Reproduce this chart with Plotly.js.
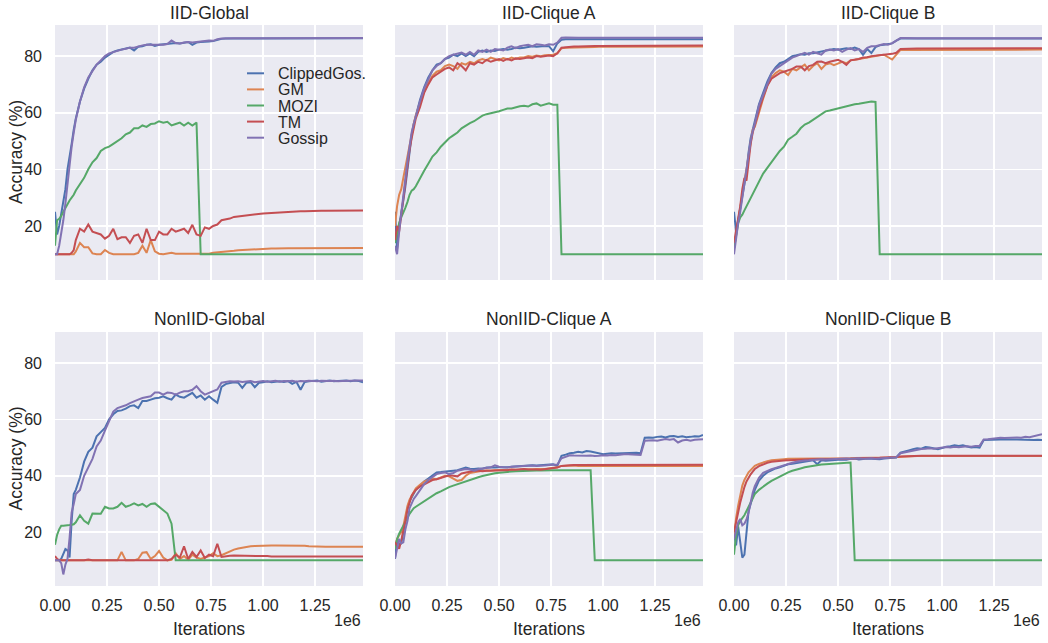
<!DOCTYPE html>
<html>
<head>
<meta charset="utf-8">
<script src="https://cdn.plot.ly/plotly-3.0.1.min.js"></script>
<style>
html, body { margin: 0; padding: 0; background: #ffffff; }
#chart { width: 1048px; height: 643px; }
</style>
</head>
<body>
<div id="chart"></div>
<script>
// ---------- shared data ----------
const iterations = [
  0, 0.01, 0.02, 0.03, 0.04, 0.05, 0.06, 0.07, 0.08, 0.09, 0.10,
  0.12, 0.14, 0.16, 0.18, 0.20, 0.22, 0.24, 0.26, 0.28, 0.30,
  0.32, 0.34, 0.36, 0.38, 0.40, 0.42, 0.44, 0.46, 0.48, 0.50,
  0.52, 0.54, 0.56, 0.58, 0.60, 0.62, 0.64, 0.66, 0.68, 0.70,
  0.72, 0.74, 0.76, 0.78, 0.80, 0.82, 0.84, 0.86, 0.88, 0.90,
  0.92, 0.94, 0.96, 0.98, 1.00, 1.02, 1.04, 1.06, 1.08, 1.10,
  1.12, 1.14, 1.16, 1.18, 1.20, 1.22, 1.24, 1.26, 1.28, 1.30,
  1.32, 1.34, 1.36, 1.38, 1.40, 1.42, 1.44, 1.46, 1.48
]; // in units of 1e6 iterations

const seriesNames = ['ClippedGos.', 'GM', 'MOZI', 'TM', 'Gossip'];
const seriesColors = ['#4C72B0', '#DD8452', '#55A868', '#C44E52', '#8172B3'];
const panelTitles = ['IID-Global', 'IID-Clique A', 'IID-Clique B', 'NonIID-Global', 'NonIID-Clique A', 'NonIID-Clique B'];
const xTickVals = [0, 0.25, 0.5, 0.75, 1.0, 1.25];
const yTickVals = [20, 40, 60, 80];

// ---------- IID-Global ----------
const iidGlobalClipped = [
  25, 17, 20, 24, 28, 33, 40, 44, 49, 54, 58,
  64, 68.5, 72, 75, 77, 78, 79.5, 80.5, 81.5, 82,
  82.3, 82.8, 83, 82, 83.3, 83.5, 84, 84.2, 83.6, 84,
  84.2, 84.3, 84.5, 84.6, 84.5, 84.7, 85, 84, 84.8, 85,
  85, 85.2, 85.3, 85.8, 86.1, 86.2, 86.2, 86.3, 86.2, 86.3,
  86.3, 86.2, 86.3, 86.3, 86.4, 86.3, 86.3, 86.4, 86.3, 86.4,
  86.4, 86.3, 86.4, 86.4, 86.4, 86.3, 86.4, 86.4, 86.4, 86.4,
  86.4, 86.4, 86.3, 86.4, 86.4, 86.4, 86.4, 86.4, 86.3
];
const iidGlobalGM = [
  10, 10, 10, 10, 10, 10, 10, 10, 10, 10, 11,
  14, 12.5, 12.5, 10.3, 10, 10, 11.5, 10.5, 10, 10,
  10, 10, 10, 10, 10.5, 13, 10.5, 15, 11, 10.2,
  10, 10.3, 10.5, 10.2, 10.2, 10, 10, 10, 10, 10,
  10, 10.2, 10.5, 10.6, 10.8, 11, 11, 11.2, 11.4, 11.5,
  11.6, 11.7, 11.8, 11.8, 11.9, 12, 12, 12, 12.1, 12.1,
  12.1, 12.1, 12.1, 12.2, 12.2, 12.2, 12.2, 12.2, 12.2, 12.2,
  12.2, 12.2, 12.2, 12.2, 12.2, 12.2, 12.2, 12.2, 12.2
];
const iidGlobalMOZI = [
  13, 22, 22.5, 23.5, 25, 26.5, 27.5, 29, 30, 31, 32.5,
  34.8, 37, 40, 42.5, 44, 46.5, 47.5, 48, 49, 50,
  51, 52.4, 53, 54.5, 54.5, 55.5, 55, 56, 56.2, 57,
  56.5, 56.8, 55.5, 56, 56.5, 55.5, 56.5, 55.5, 56.5, 10,
  10, 10, 10, 10, 10, 10, 10, 10, 10, 10,
  10, 10, 10, 10, 10, 10, 10, 10, 10, 10,
  10, 10, 10, 10, 10, 10, 10, 10, 10, 10,
  10, 10, 10, 10, 10, 10, 10, 10, 10
];
const iidGlobalTM = [
  10, 10, 10, 10, 10, 10, 10, 10, 10.5, 11.5, 15,
  19, 18, 20.5, 18, 17.5, 17, 15.5, 16.5, 19, 15.3,
  16, 16, 14, 16.5, 17, 14, 19, 15, 15, 18,
  17, 17, 19, 18, 18.5, 19, 17.5, 20.4, 17, 16.5,
  19.5, 19, 20, 20.5, 22, 22.3, 22.6, 23.2, 23.4, 23.6,
  23.8, 24, 24.1, 24.3, 24.4, 24.5, 24.6, 24.8, 24.9, 25,
  25, 25.1, 25.1, 25.2, 25.2, 25.3, 25.3, 25.3, 25.4, 25.4,
  25.4, 25.4, 25.5, 25.5, 25.5, 25.5, 25.5, 25.5, 25.5
];
const iidGlobalGossip = [
  10, 10, 13, 17, 22, 28, 35, 42, 48, 53, 57.5,
  64, 69, 72.5, 75, 77, 78.5, 80, 81, 81.5, 82,
  82.3, 82.6, 83, 83, 83.5, 83.8, 84, 84, 84, 84.2,
  84, 84.3, 85.5, 84.6, 84.5, 84.8, 85, 84.8, 85, 85,
  85.2, 85.5, 85.4, 86, 86.2, 86.3, 86.2, 86.3, 86.3, 86.3,
  86.3, 86.4, 86.3, 86.4, 86.4, 86.4, 86.3, 86.4, 86.4, 86.4,
  86.4, 86.4, 86.4, 86.3, 86.4, 86.4, 86.4, 86.4, 86.4, 86.4,
  86.4, 86.4, 86.4, 86.4, 86.4, 86.4, 86.4, 86.4, 86.4
];

// ---------- IID-Clique A ----------
const iidAClipped = [
  25, 12, 20, 24, 29, 34, 40, 47, 52, 56, 59,
  64.5, 69, 72.5, 75, 77, 77.5, 79, 79.5, 80.5, 80,
  81, 80, 81, 80, 81.5, 82, 81.5, 82, 81.8, 82.3,
  82.5, 82.3, 82.5, 83, 82.8, 83, 83.2, 83.5, 83.3, 83.5,
  83.6, 83.5, 81.7, 84.5, 85.8, 86, 86, 86, 86, 86,
  86, 86, 86, 86, 86, 86, 86, 86, 86, 86,
  86, 86, 86, 86, 86, 86, 86, 86, 86, 86,
  86, 86, 86, 86, 86, 86, 86, 86, 86
];
const iidAGM = [
  20, 27, 31, 33, 37, 41, 45, 49, 53, 56, 59,
  63, 67.5, 70.5, 73, 74.5, 75, 76.5, 77, 76.5, 75.5,
  77.5, 77, 78, 77.5, 78.5, 79, 78.5, 79.5, 79, 78.5,
  79.3, 78.8, 79.5, 79, 79.5, 79.5, 80, 79.8, 80.2, 80,
  80.3, 80.5, 80.5, 81, 82.8, 83, 83, 83.1, 83.1, 83.2,
  83.2, 83.2, 83.2, 83.3, 83.3, 83.3, 83.3, 83.3, 83.3, 83.3,
  83.3, 83.4, 83.4, 83.4, 83.4, 83.4, 83.4, 83.4, 83.4, 83.4,
  83.4, 83.4, 83.4, 83.4, 83.4, 83.4, 83.4, 83.4, 83.4
];
const iidAMOZI = [
  14, 18, 21, 23, 24.5, 26.5, 28.5, 31, 32.5, 33, 34,
  37, 39.5, 42, 44.5, 46, 48, 49.5, 51, 52, 53,
  54.5, 55.5, 56.3, 57, 58, 59, 59.5, 59.8, 60, 60.5,
  61, 61.5, 61.5, 62, 62.3, 62.5, 62.2, 63, 63.3, 62.5,
  63, 63.3, 62.8, 62.8, 10, 10, 10, 10, 10, 10,
  10, 10, 10, 10, 10, 10, 10, 10, 10, 10,
  10, 10, 10, 10, 10, 10, 10, 10, 10, 10,
  10, 10, 10, 10, 10, 10, 10, 10, 10
];
const iidATM = [
  15, 20, 18, 24, 30, 36, 42, 47, 51, 55, 58,
  62, 67, 70, 72.5, 73.5, 74.5, 75.5, 76, 75, 77.5,
  76.5, 75, 77.5, 77, 78, 77.5, 78.7, 78, 78.5, 79,
  78.3, 79, 78.5, 79.2, 79, 79.3, 79.5, 79.3, 80, 79.8,
  80, 80.2, 80, 81, 83, 83.2, 83.3, 83.4, 83.4, 83.5,
  83.5, 83.5, 83.6, 83.6, 83.6, 83.6, 83.7, 83.7, 83.7, 83.7,
  83.7, 83.7, 83.8, 83.8, 83.8, 83.8, 83.8, 83.8, 83.8, 83.8,
  83.8, 83.8, 83.8, 83.8, 83.8, 83.8, 83.8, 83.8, 83.8
];
const iidAGossip = [
  13, 10, 18, 25, 30, 37, 43, 49, 53, 56, 59,
  64, 68.5, 72, 75, 76.5, 77.5, 79, 80, 80.5, 81,
  81.3, 80.5, 81.5, 80.5, 82, 81.5, 82.3, 81.5, 82.5, 82.3,
  82, 83, 83.5, 82.8, 83.5, 83.8, 84, 83.5, 84.2, 84,
  83.8, 84.2, 84, 84.8, 86.5, 86.6, 86.5, 86.5, 86.5, 86.5,
  86.5, 86.5, 86.5, 86.5, 86.5, 86.5, 86.5, 86.5, 86.5, 86.5,
  86.5, 86.5, 86.5, 86.5, 86.5, 86.5, 86.5, 86.5, 86.5, 86.5,
  86.5, 86.5, 86.5, 86.5, 86.5, 86.5, 86.5, 86.5, 86.5
];

// ---------- IID-Clique B ----------
const iidBClipped = [
  25, 18, 22, 26, 31, 35, 39, 46, 51, 54, 57,
  63, 67, 71, 74, 76, 77.5, 78, 79, 80, 80.3,
  80.7, 80.5, 81, 81, 81.3, 81.5, 81.7, 82, 82.5, 82.3,
  82.5, 82.8, 82.5, 83, 82.5, 80.5, 82.5, 81.1, 83.2, 83.8,
  84, 84.3, 84.5, 85.5, 86.2, 86.2, 86.2, 86.2, 86.2, 86.2,
  86.2, 86.2, 86.2, 86.2, 86.2, 86.2, 86.2, 86.2, 86.2, 86.2,
  86.2, 86.2, 86.2, 86.2, 86.2, 86.2, 86.2, 86.2, 86.2, 86.2,
  86.2, 86.2, 86.2, 86.2, 86.2, 86.2, 86.2, 86.2, 86.2
];
const iidBGM = [
  12, 17, 21, 26, 32, 36, 40, 45, 50, 54, 55,
  60.5, 65, 69.5, 72.5, 74, 75, 74.5, 73.3, 75.5, 75,
  76, 77, 75, 76.5, 77.5, 75.5, 77, 77.5, 76.8, 77.5,
  78, 77.5, 78.5, 78.7, 79, 79.3, 79.5, 79.8, 80, 80.3,
  80.5, 79.5, 78.8, 80.5, 82.2, 82.2, 82.2, 82.3, 82.3, 82.3,
  82.3, 82.3, 82.3, 82.3, 82.3, 82.3, 82.3, 82.3, 82.3, 82.3,
  82.3, 82.3, 82.3, 82.3, 82.3, 82.3, 82.3, 82.3, 82.3, 82.3,
  82.3, 82.3, 82.3, 82.3, 82.3, 82.3, 82.3, 82.3, 82.3
];
const iidBMOZI = [
  12, 17, 21, 23, 24, 25.5, 27, 28.5, 29.5, 31, 32.5,
  35.5, 38.5, 40.5, 42.5, 44.5, 46.5, 48, 50.5, 51.5, 52.6,
  54.5, 55.8, 56.5, 57.5, 58.5, 59.5, 60.5, 60.8, 61.2, 61.5,
  61.8, 62.2, 62.6, 63, 63.2, 63.5, 63.8, 64, 63.8, 10,
  10, 10, 10, 10, 10, 10, 10, 10, 10, 10,
  10, 10, 10, 10, 10, 10, 10, 10, 10, 10,
  10, 10, 10, 10, 10, 10, 10, 10, 10, 10,
  10, 10, 10, 10, 10, 10, 10, 10, 10
];
const iidBTM = [
  14, 18, 22, 27, 33, 37, 36, 43, 49, 53, 56,
  61, 65.5, 69.5, 72, 73, 74, 74.5, 75, 75.5, 76.3,
  76.3, 75, 76.5, 76.9, 78, 78.1, 77.5, 78, 78.3, 78.7,
  78, 76.9, 78.5, 78.7, 79, 79.5, 79.6, 80, 80.2, 80.5,
  80.5, 80.7, 80.8, 81.2, 82.5, 82.6, 82.6, 82.7, 82.7, 82.7,
  82.7, 82.8, 82.8, 82.8, 82.8, 82.8, 82.8, 82.8, 82.8, 82.8,
  82.8, 82.8, 82.8, 82.8, 82.8, 82.8, 82.8, 82.8, 82.8, 82.8,
  82.8, 82.8, 82.8, 82.8, 82.8, 82.8, 82.8, 82.8, 82.8
];
const iidBGossip = [
  10, 16, 21, 25, 30, 36, 40, 45, 50, 53.5, 56,
  62.5, 66.5, 70.5, 73.8, 75.5, 76.5, 77.8, 78.5, 79.5, 80,
  80.5, 81.2, 80.5, 81.5, 81, 80.5, 82, 82.3, 82, 82.5,
  81.5, 82.3, 82.8, 82, 82.5, 81.5, 82.9, 83.5, 83.5, 84,
  84.3, 84, 84.6, 85.5, 86.4, 86.4, 86.3, 86.3, 86.3, 86.3,
  86.3, 86.3, 86.3, 86.3, 86.3, 86.3, 86.3, 86.3, 86.3, 86.3,
  86.3, 86.3, 86.3, 86.3, 86.3, 86.3, 86.3, 86.3, 86.3, 86.3,
  86.3, 86.3, 86.3, 86.3, 86.3, 86.3, 86.3, 86.3, 86.3
];

// ---------- NonIID-Global ----------
const nonGClipped = [
  10, 10, 10, 10.5, 12.5, 14, 13.5, 11, 24, 33.5, 35,
  39.4, 45, 48.5, 50, 54, 55.5, 57, 60, 61.8, 63,
  63.2, 63.8, 64.7, 65, 64, 66.5, 66.5, 67, 67.5, 67.7,
  68.2, 67.5, 67, 68.8, 68, 67.7, 68.5, 69.4, 67.7, 68.5,
  67, 68.2, 67, 65.9, 71.5, 72.5, 72.9, 73.2, 73, 71.2,
  73, 73.2, 71.4, 73, 73.2, 73.5, 73.2, 73.4, 73.5, 73.3,
  73.6, 72.6, 73.3, 70.5, 73.3, 73.5, 73.6, 73.8, 73.4, 73.6,
  73.8, 73.5, 73.6, 73.7, 73.8, 73.5, 73.8, 73.6, 73.2
];
const nonGGM = [
  10, 10, 10, 10, 10, 10, 10, 10, 10, 10, 10,
  10, 10, 10, 10, 10, 10, 10, 10, 10, 10,
  13, 10, 10, 10, 10.5, 12.7, 12.9, 10.5, 11.5, 13.3,
  11, 10, 10.2, 12.5, 10.5, 11.5, 10.2, 12, 11, 10.5,
  11, 11.5, 12.5, 11.5, 11.8, 12.5, 13.2, 13.8, 14.2, 14.5,
  14.8, 15, 15.1, 15.2, 15.3, 15.3, 15.3, 15.3, 15.3, 15.3,
  15.3, 15.3, 15.3, 15.3, 15.2, 15, 14.9, 14.8, 14.8, 14.8,
  14.8, 14.8, 14.8, 14.8, 14.8, 14.8, 14.8, 14.8, 14.8
];
const nonGMOZI = [
  15.5, 19, 21, 22.3, 22.3, 22.3, 22.4, 22.5, 22.6, 22.8, 23.5,
  26, 24, 23, 26.6, 26.6, 26.5, 29, 28.4, 28.4, 29,
  30.4, 29, 29.5, 30.2, 29.5, 30, 29, 30, 30.2, 29,
  27.5, 26.6, 23, 10, 10, 10, 10, 10, 10, 10,
  10, 10, 10, 10, 10, 10, 10, 10, 10, 10,
  10, 10, 10, 10, 10, 10, 10, 10, 10, 10,
  10, 10, 10, 10, 10, 10, 10, 10, 10, 10,
  10, 10, 10, 10, 10, 10, 10, 10, 10
];
const nonGTM = [
  11.5, 10.5, 10, 10, 10, 10, 10, 10, 10, 10, 10,
  10, 10, 10.3, 10, 10, 10, 10, 10, 10, 10,
  10, 10, 10, 10, 10, 10, 10, 10, 10, 10,
  10, 10, 10.5, 12, 11, 15, 10.5, 13, 11.2, 13.5,
  10.8, 12, 11.5, 15.9, 11.2, 11.5, 11.6, 11.7, 11.7, 11.6,
  11.6, 11.5, 11.5, 11.5, 11.5, 11.5, 11.4, 11.4, 11.4, 11.4,
  11.4, 11.4, 11.4, 11.4, 11.4, 11.4, 11.4, 11.4, 11.4, 11.4,
  11.4, 11.4, 11.4, 11.4, 11.4, 11.4, 11.4, 11.4, 11.4
];
const nonGGossip = [
  10, 10, 10, 9, 5, 8.5, 10.5, 18, 27, 30, 33.5,
  35, 40, 43, 46, 50.4, 52.5, 56, 59.5, 62.8, 64,
  64.4, 65, 65.8, 66.5, 67, 67.6, 68, 68.2, 69.5, 69.5,
  68.8, 69.5, 69.4, 68.8, 69.5, 70, 70, 70.5, 71.8, 70,
  68.8, 69.4, 70, 70.6, 73, 73.3, 73.5, 73.4, 73.5, 73.3,
  73.4, 73.6, 73.2, 73.5, 73.6, 73.4, 73.5, 73.7, 73.4, 73.6,
  73.5, 73.7, 73.4, 73.6, 73.5, 73.7, 73.6, 73.5, 73.7, 73.6,
  73.6, 73.7, 73.5, 73.6, 73.7, 73.8, 73.7, 73.8, 73.8
];

// ---------- NonIID-Clique A ----------
const nonAClipped = [
  10.5, 17.6, 15.5, 16, 20, 25, 28.5, 31, 32.5, 34, 35,
  36.5, 38, 39, 40, 41.2, 41.3, 41.4, 41.6, 41.8, 42,
  42.5, 42.9, 42.5, 42.4, 42.6, 42.5, 42.9, 42.8, 42.9, 43,
  42.9, 43, 43.2, 43.3, 43.5, 43.4, 43.6, 43.7, 43.6, 43.7,
  43.8, 44, 44.1, 43.5, 47.1, 47.5, 48, 48.2, 48.5, 48.3,
  48.8, 48.6, 48.2, 47.8, 47.6, 47.8, 48, 47.9, 48, 48.1,
  48.2, 48.3, 48.2, 48, 53.5, 53.6, 53.5, 53.8, 53.9, 53.6,
  54, 54.1, 53.8, 54, 53.7, 53.8, 54, 53.9, 54.5
];
const nonAGM = [
  15, 17.6, 19, 20, 22, 26, 29.4, 31.5, 33, 34.5, 35.5,
  36.8, 37.9, 38.5, 39, 38.8, 39.5, 40, 39.8, 39, 38.2,
  38.5, 40, 41, 41.3, 41.6, 41.8, 41.9, 41.8, 42, 42,
  42, 42.1, 42.1, 42, 42.2, 42.3, 42.2, 42.3, 42.4, 42.3,
  42.4, 42.6, 42.8, 43, 43.5, 43.6, 43.6, 43.6, 43.5, 43.5,
  43.5, 43.5, 43.5, 43.5, 43.5, 43.5, 43.5, 43.5, 43.5, 43.5,
  43.5, 43.5, 43.5, 43.5, 43.5, 43.5, 43.5, 43.5, 43.5, 43.5,
  43.5, 43.5, 43.5, 43.5, 43.5, 43.5, 43.5, 43.5, 43.5
];
const nonAMOZI = [
  14, 17.5, 19.5, 21, 22.3, 24, 25.5, 26.5, 27.5, 28.5, 29,
  30, 31, 32, 33, 33.8, 34.5, 35.3, 36, 36.5, 37,
  37.6, 38.2, 38.7, 39.2, 39.5, 39.9, 40.3, 40.6, 40.9, 41.1,
  41.3, 41.4, 41.5, 41.6, 41.7, 41.8, 41.8, 41.9, 41.9, 41.9,
  42, 42, 42, 42, 42, 42, 42, 41.9, 42, 42,
  42, 42, 10, 10, 10, 10, 10, 10, 10, 10,
  10, 10, 10, 10, 10, 10, 10, 10, 10, 10,
  10, 10, 10, 10, 10, 10, 10, 10, 10
];
const nonATM = [
  16.4, 15, 14.1, 17, 20, 24, 28, 30.5, 32.9, 34, 35,
  36.2, 37, 37.8, 38.5, 38.8, 39.2, 39.6, 40.2, 40, 39.8,
  40.8, 41.2, 41.5, 41.8, 41.8, 41.6, 41.8, 41.9, 41.8, 42,
  42, 42, 42.2, 42.1, 42.3, 42.4, 42.2, 42.3, 42.2, 42.1,
  42.3, 42.5, 42.7, 42.9, 43.5, 43.7, 43.7, 43.8, 43.8, 43.8,
  43.8, 43.8, 43.8, 43.8, 43.8, 43.8, 43.8, 43.8, 43.9, 43.9,
  43.9, 43.9, 43.9, 43.9, 43.9, 43.9, 43.9, 43.9, 43.9, 43.9,
  43.9, 43.9, 43.9, 43.9, 43.9, 43.9, 43.9, 43.9, 43.9
];
const nonAGossip = [
  10.6, 14, 17.6, 16, 16.4, 21, 24, 28.5, 30.5, 31.8, 32.8,
  35, 37, 38.5, 39.5, 40.6, 41, 41.2, 40.6, 41, 41.8,
  42, 42.4, 42.2, 41.8, 42.3, 42.5, 42.9, 43, 43.7, 43.2,
  43, 42.9, 43.2, 43.3, 43.5, 43.4, 43.5, 43.6, 43.5, 43.5,
  43.6, 43.8, 44, 44, 46.2, 46.8, 47.3, 47.2, 47.1, 47,
  47.1, 47.2, 47, 47.1, 47.3, 47.2, 47.4, 47.3, 47.5, 47.6,
  47.6, 47.5, 47.6, 47.4, 52.4, 52.5, 52.6, 52.4, 52.8, 53,
  52.8, 53, 51.8, 52.5, 52.8, 52.4, 52.8, 53, 53
];

// ---------- NonIID-Clique B ----------
const nonBClipped = [
  20, 15.3, 22, 16.5, 11, 12, 21, 27.5, 30, 33, 35,
  38.3, 40, 41.2, 42, 42.6, 43, 43.5, 44.1, 44.3, 44.5,
  44.7, 45, 45.2, 45.5, 44.1, 45.5, 45.3, 45.5, 45.6, 45.7,
  45.8, 45.7, 46, 46.1, 45.8, 46, 46.1, 46, 45.9, 45.9,
  46.1, 46.3, 46.4, 46.5, 48.2, 48.5, 49, 49.4, 49.8, 49.6,
  50.2, 50, 49.8, 49.4, 49.8, 50.3, 50.5, 50.8, 50.6, 50.8,
  50.4, 50, 50.2, 50, 52.7, 52.8, 52.9, 52.8, 52.9, 52.9,
  52.8, 52.9, 52.9, 52.8, 52.9, 52.8, 52.7, 52.8, 52.7
];
const nonBGM = [
  18, 25, 29.4, 33, 36.5, 38.5, 40, 41.2, 42, 42.8, 43.5,
  44.2, 44.8, 45.2, 45.5, 45.7, 45.9, 45.9, 46, 46, 46,
  46, 46, 46.1, 46.1, 46, 46.1, 46.1, 46.1, 46.2, 46.2,
  46.2, 46.2, 46.2, 46.3, 46.3, 46.3, 46.3, 46.4, 46.4, 46.4,
  46.5, 46.5, 46.6, 46.7, 46.8, 46.9, 46.9, 47, 47, 47,
  47, 47, 47, 47, 47, 47, 47, 47, 47, 47,
  47, 47, 47, 47, 47, 47, 47, 47, 47, 47,
  47, 47, 47, 47, 47, 47, 47, 47, 47
];
const nonBMOZI = [
  12, 19, 22.5, 24, 25, 26, 27.5, 29, 30.6, 32, 33.5,
  35, 36.2, 37.2, 38.2, 39, 39.8, 40.6, 41.2, 41.8, 42.3,
  42.6, 43, 43.3, 43.5, 43.7, 44, 44.1, 44.2, 44.3, 44.5,
  44.5, 44.6, 44.7, 10, 10, 10, 10, 10, 10, 10,
  10, 10, 10, 10, 10, 10, 10, 10, 10, 10,
  10, 10, 10, 10, 10, 10, 10, 10, 10, 10,
  10, 10, 10, 10, 10, 10, 10, 10, 10, 10,
  10, 10, 10, 10, 10, 10, 10, 10, 10
];
const nonBTM = [
  20, 24, 27, 30.5, 33.5, 36, 38, 39.5, 40.5, 41.5, 42.4,
  43.4, 44.1, 44.6, 45, 45.2, 45.3, 45.4, 45.5, 45.6, 45.7,
  45.7, 45.8, 45.8, 45.9, 45.9, 45.9, 46, 46, 46, 46,
  46.1, 46.1, 46.1, 46.1, 46.2, 46.2, 46.3, 46.3, 46.4, 46.4,
  46.5, 46.5, 46.6, 46.7, 46.8, 46.9, 47, 47, 47.1, 47.1,
  47.1, 47.1, 47.1, 47.1, 47.1, 47.1, 47.1, 47.1, 47.1, 47.1,
  47.1, 47.1, 47.1, 47.1, 47.1, 47.1, 47.1, 47.1, 47.1, 47.1,
  47.1, 47.1, 47.1, 47.1, 47.1, 47.1, 47.1, 47.1, 47.1
];
const nonBGossip = [
  17.6, 21, 23.5, 24.7, 22.4, 23, 24.5, 27, 31, 34, 36.3,
  39.3, 41, 41.8, 42.3, 42.8, 43.3, 43.8, 44.2, 44.6, 45,
  45.3, 45.4, 45.5, 45.7, 45.8, 45.9, 45.8, 45.9, 46, 46,
  46, 46.1, 46, 46.1, 46.2, 46, 46.1, 46.2, 46, 46.1,
  46.2, 46.3, 46.4, 46.6, 48, 48.3, 48.6, 49, 49.4, 49.5,
  49.6, 49.8, 49.6, 49.8, 50, 50.2, 50, 50.3, 50.1, 50.4,
  50.5, 50.3, 50.6, 50.6, 52.9, 53, 53.2, 53.3, 53.5, 53.4,
  53.5, 53.4, 53.6, 53.5, 53.8, 53.7, 54, 54.3, 54.7
];

// ---------- assemble ----------
const panelSeries = [
  [iidGlobalClipped, iidGlobalGM, iidGlobalMOZI, iidGlobalTM, iidGlobalGossip],
  [iidAClipped, iidAGM, iidAMOZI, iidATM, iidAGossip],
  [iidBClipped, iidBGM, iidBMOZI, iidBTM, iidBGossip],
  [nonGClipped, nonGGM, nonGMOZI, nonGTM, nonGGossip],
  [nonAClipped, nonAGM, nonAMOZI, nonATM, nonAGossip],
  [nonBClipped, nonBGM, nonBMOZI, nonBTM, nonBGossip]
];

const W = 1048, H = 643;
const FONT = 'Liberation Sans, Arial, Helvetica, sans-serif';
const TXT = '#262626';
// pixel geometry of the plot areas
const colPx = [[55, 363], [395, 703], [734, 1042]];
const rowPx = [[25, 280], [332, 586]];
const px = v => v / W;
const py = v => 1 - v / H;

const traces = [];
const layout = {
  width: W, height: H,
  margin: { l: 0, r: 0, t: 0, b: 0, pad: 0 },
  paper_bgcolor: '#ffffff',
  plot_bgcolor: '#EAEAF2',
  showlegend: false,
  font: { family: FONT, color: TXT, size: 16 },
  annotations: [],
  shapes: []
};

panelSeries.forEach((series, i) => {
  const row = i < 3 ? 0 : 1;
  const col = i % 3;
  const suffix = i === 0 ? '' : String(i + 1);
  series.forEach((ys, j) => {
    traces.push({
      type: 'scatter', mode: 'lines',
      x: iterations, y: ys,
      name: seriesNames[j],
      line: { color: seriesColors[j], width: 2 },
      xaxis: 'x' + suffix, yaxis: 'y' + suffix,
      hoverinfo: 'skip', showlegend: false
    });
  });
  layout['xaxis' + suffix] = {
    domain: [px(colPx[col][0]), px(colPx[col][1])],
    anchor: 'y' + suffix,
    range: [0, 1.48],
    tickmode: 'array', tickvals: xTickVals, tickformat: '.2f',
    showticklabels: row === 1,
    ticks: '', ticklabelstandoff: 8,
    tickfont: { family: FONT, size: 16, color: TXT },
    showgrid: true, gridcolor: '#ffffff', gridwidth: 1.6,
    zeroline: false, showline: false, fixedrange: true, automargin: false
  };
  layout['yaxis' + suffix] = {
    domain: [py(rowPx[row][1]), py(rowPx[row][0])],
    anchor: 'x' + suffix,
    range: [0.9, 91],
    tickmode: 'array', tickvals: yTickVals,
    showticklabels: col === 0,
    ticks: '', ticklabelstandoff: 12,
    tickfont: { family: FONT, size: 16, color: TXT },
    showgrid: true, gridcolor: '#ffffff', gridwidth: 1.6,
    zeroline: false, showline: false, fixedrange: true, automargin: false
  };
  // subplot title
  layout.annotations.push({
    text: panelTitles[i], xref: 'paper', yref: 'paper',
    x: px((colPx[col][0] + colPx[col][1]) / 2),
    y: py(row === 0 ? 13 : 319),
    xanchor: 'center', yanchor: 'middle', showarrow: false,
    font: { family: FONT, size: 17.5, color: TXT }
  });
  if (row === 1) {
    layout.annotations.push({
      text: 'Iterations', xref: 'paper', yref: 'paper',
      x: px((colPx[col][0] + colPx[col][1]) / 2), y: py(629),
      xanchor: 'center', yanchor: 'middle', showarrow: false,
      font: { family: FONT, size: 17.5, color: TXT }
    });
    layout.annotations.push({
      text: '1e6', xref: 'paper', yref: 'paper',
      x: px(colPx[col][1]), y: py(620),
      xanchor: 'right', yanchor: 'middle', showarrow: false,
      font: { family: FONT, size: 16, color: TXT }
    });
  }
  if (col === 0) {
    layout.annotations.push({
      text: 'Accuracy (%)', xref: 'paper', yref: 'paper',
      x: px(15.5), y: py((rowPx[row][0] + rowPx[row][1]) / 2),
      xanchor: 'center', yanchor: 'middle', textangle: -90, showarrow: false,
      font: { family: FONT, size: 17.5, color: TXT }
    });
  }
});

// legend (inside the IID-Global panel)
seriesNames.forEach((name, j) => {
  const yc = 73.3 + j * 16.1;
  layout.shapes.push({
    type: 'line', xref: 'paper', yref: 'paper',
    x0: px(247), x1: px(264), y0: py(yc), y1: py(yc),
    line: { color: seriesColors[j], width: 2 }
  });
  layout.annotations.push({
    text: name, xref: 'paper', yref: 'paper',
    x: px(276), y: py(yc + 0.5), xanchor: 'left', yanchor: 'middle',
    showarrow: false, font: { family: FONT, size: 16, color: TXT }
  });
});

Plotly.newPlot('chart', traces, layout, { staticPlot: true, displayModeBar: false });
</script>
</body>
</html>
